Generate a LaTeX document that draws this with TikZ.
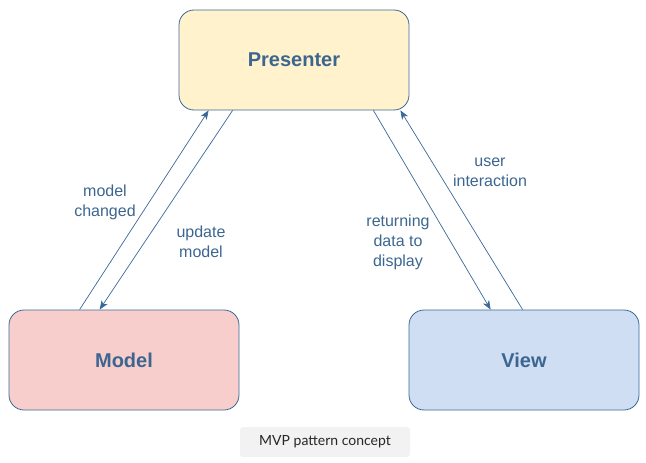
\documentclass[tikz,border=0pt]{standalone}
\usepackage{fontspec}
\setmainfont{Liberation Sans}
\newfontfamily\labfont{Liberation Sans}
\newfontfamily\capfont{Lato}
\usetikzlibrary{arrows.meta}
\definecolor{strokeblue}{HTML}{3A6896}
\definecolor{textblue}{HTML}{3C6690}
\definecolor{presfill}{HTML}{FFF2CC}
\definecolor{modelfill}{HTML}{F8CECC}
\definecolor{viewfill}{HTML}{D0DEF4}
\definecolor{capfill}{HTML}{F2F2F2}
\begin{document}
\begin{tikzpicture}[x=1pt,y=-1pt,
  box/.style={draw=strokeblue,line width=0.8pt,rounded corners=15pt,minimum width=230pt,minimum height=100pt,inner sep=0pt,font=\labfont\fontsize{20}{22}\selectfont\bfseries,text=textblue},
  lbl/.style={font=\labfont\fontsize{16}{20}\selectfont,text=textblue,align=center,inner sep=0pt},
  conn/.style={draw=strokeblue,line width=0.7pt,-{Stealth[length=9pt,width=7pt,inset=2.5pt]}}]
\useasboundingbox (0,0) rectangle (646,463);
\node[box,fill=presfill] (P) at (294,60) {Presenter};
\node[box,fill=modelfill] (M) at (124,360) {Model};
\node[box,fill=viewfill] (V) at (524,360) {View};
\node[fill=capfill,rounded corners=3pt,minimum width=170pt,minimum height=30pt,inner sep=0pt,font=\capfont\fontsize{14}{16}\selectfont,text=black!85] (C) at (325,442) {MVP pattern concept};
\draw[conn] ([xshift=71pt]M.north west) -- ([xshift=30pt]P.south west);
\draw[conn] ([xshift=54pt]P.south west) -- ([xshift=91pt]M.north west);
\draw[conn] ([xshift=-36pt]P.south east) -- ([xshift=82pt]V.north west);
\draw[conn] ([xshift=114pt]V.north west) -- ([xshift=-9pt]P.south east);
\node[lbl] (l1) at (105,202) {model\\changed};
\node[lbl] (l2) at (201,242) {update\\model};
\node[lbl] (l3) at (398,242) {returning\\data to\\display};
\node[lbl] (l4) at (490,172) {user\\interaction};
\end{tikzpicture}
\end{document}
